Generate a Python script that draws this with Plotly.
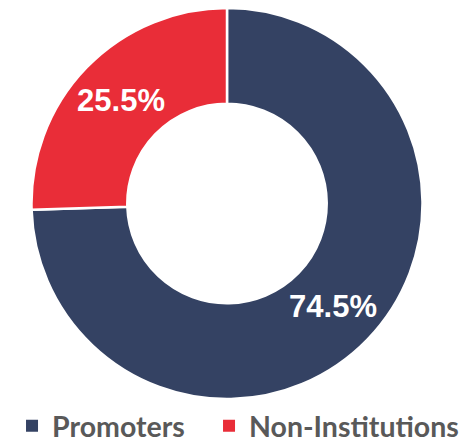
import plotly.graph_objects as go

labels = ["Promoters", "Non-Institutions"]
values = [74.5, 25.5]
colors = ["#344263", "#E92D38"]

fig = go.Figure()

fig.add_trace(go.Pie(
    labels=labels,
    values=values,
    hole=0.51,
    sort=False,
    direction="clockwise",
    rotation=0,
    showlegend=False,
    marker=dict(colors=colors, line=dict(color="white", width=2.5)),
    texttemplate="%{value:.1f}%",
    textposition="inside",
    insidetextorientation="horizontal",
    textfont=dict(family="Liberation Sans, Arial", size=31, color="white", weight="bold"),
    domain=dict(x=[0.0402, 0.8858], y=[0.1213, 1.0]),
    hoverinfo="label+percent",
))

# legend entries (square swatches), one legend per entry for exact placement
legend_ids = ["legend", "legend2"]
for name, col, lg in zip(labels, colors, legend_ids):
    fig.add_trace(go.Scatter(
        x=[None], y=[None], mode="markers", name=name, legend=lg,
        marker=dict(symbol="square", size=12, color=col),
    ))

legend_font = dict(family="Lato", size=28.5, color="#595959", weight="bold")
fig.update_layout(
    width=473, height=445,
    margin=dict(l=0, r=0, t=0, b=0),
    paper_bgcolor="white",
    plot_bgcolor="white",
    xaxis=dict(visible=False),
    yaxis=dict(visible=False),
    showlegend=True,
    legend=dict(
        orientation="h",
        x=0.0085, xanchor="left",
        y=0.06, yanchor="middle",
        font=legend_font,
        bgcolor="rgba(0,0,0,0)",
    ),
    legend2=dict(
        orientation="h",
        x=0.425, xanchor="left",
        y=0.06, yanchor="middle",
        font=legend_font,
        bgcolor="rgba(0,0,0,0)",
    ),
)

fig.write_html("out.html")
